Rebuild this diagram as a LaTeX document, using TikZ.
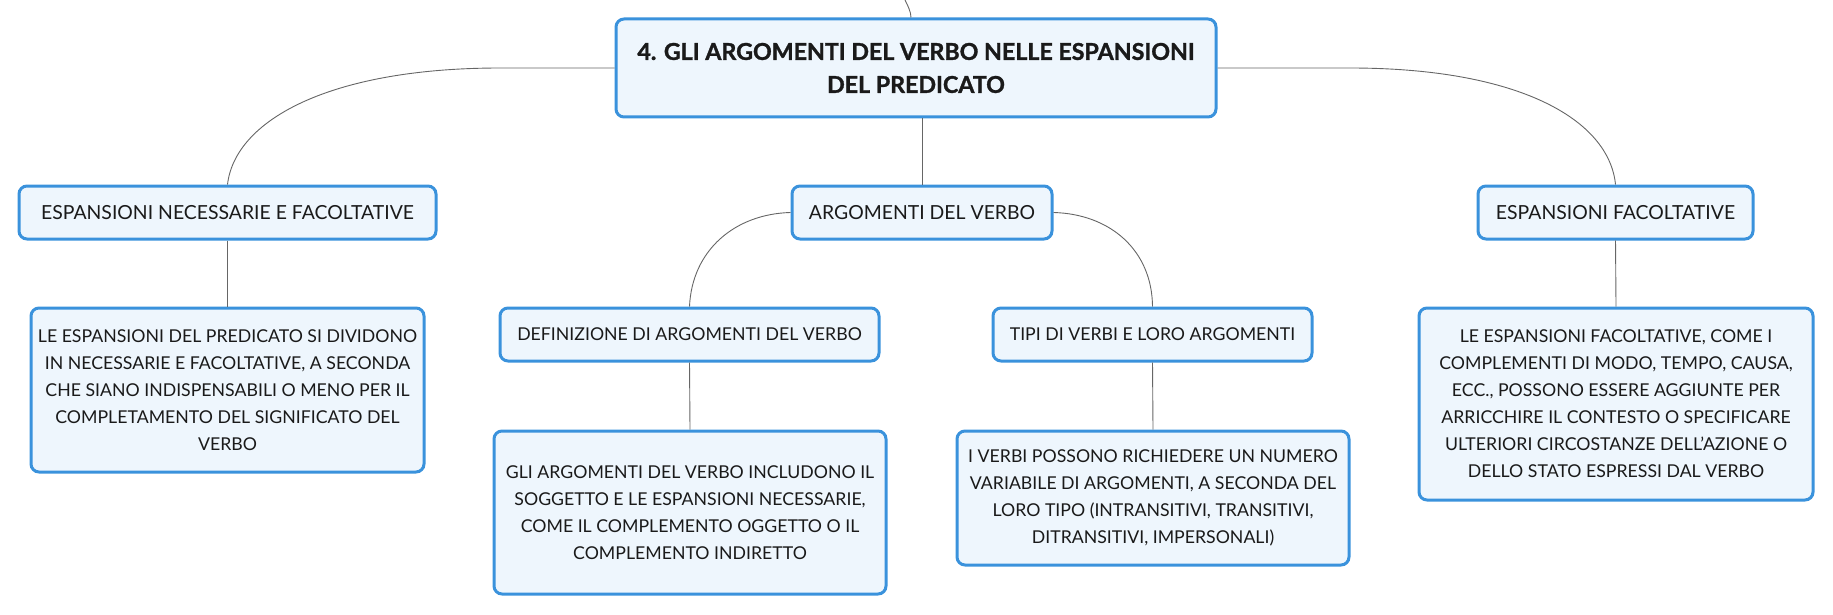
\documentclass[tikz,border=0pt]{standalone}
\usepackage{fontspec}
\setmainfont{Lato}
\newfontfamily\rootfont{Lato Bold}[FakeBold=1.3]
\definecolor{boxline}{HTML}{3A92DC}
\definecolor{boxfill}{HTML}{EEF6FD}
\definecolor{conn}{HTML}{666666}
\definecolor{ink}{HTML}{1A1A1A}
\begin{document}
\begin{tikzpicture}[x=1pt,y=-1pt,
  box/.style={draw=boxline,fill=boxfill,line width=3pt,rounded corners=8pt,
    align=center,inner sep=0pt,text=ink,font=\fontsize{17.7}{27}\selectfont},
  topic/.style={box,font=\fontsize{19.4}{27}\selectfont},
  rootbox/.style={box,font=\fontsize{23.2}{33}\rootfont},
  link/.style={draw=conn,line width=0.9pt}]
\useasboundingbox (0,0) rectangle (1833,615);
\node[rootbox,minimum width=600pt,minimum height=98pt] (root) at (916,68)
  {4. GLI ARGOMENTI DEL VERBO NELLE ESPANSIONI\\DEL PREDICATO};
\node[topic,minimum width=417pt,minimum height=53pt] (enf) at (227.5,212.5)
  {ESPANSIONI NECESSARIE E FACOLTATIVE};
\node[topic,minimum width=260pt,minimum height=53pt] (arg) at (922,212.5)
  {ARGOMENTI DEL VERBO};
\node[topic,minimum width=275pt,minimum height=53pt] (ef) at (1615.5,212.5)
  {ESPANSIONI FACOLTATIVE};
\node[box,minimum width=393pt,minimum height=164pt] (lc) at (227.5,390)
  {LE ESPANSIONI DEL PREDICATO SI DIVIDONO\\IN NECESSARIE E FACOLTATIVE, A SECONDA\\CHE SIANO INDISPENSABILI O MENO PER IL\\COMPLETAMENTO DEL SIGNIFICATO DEL\\VERBO};
\node[box,minimum width=379pt,minimum height=53pt] (def) at (689.5,334.5)
  {DEFINIZIONE DI ARGOMENTI DEL VERBO};
\node[box,minimum width=392pt,minimum height=163pt] (dc) at (690,512.5)
  {GLI ARGOMENTI DEL VERBO INCLUDONO IL\\SOGGETTO E LE ESPANSIONI NECESSARIE,\\COME IL COMPLEMENTO OGGETTO O IL\\COMPLEMENTO INDIRETTO};
\node[box,minimum width=319pt,minimum height=53pt] (tipi) at (1152.5,334.5)
  {TIPI DI VERBI E LORO ARGOMENTI};
\node[box,minimum width=392pt,minimum height=134pt] (tc) at (1153,498)
  {I VERBI POSSONO RICHIEDERE UN NUMERO\\VARIABILE DI ARGOMENTI, A SECONDA DEL\\LORO TIPO (INTRANSITIVI, TRANSITIVI,\\DITRANSITIVI, IMPERSONALI)};
\node[box,minimum width=394pt,minimum height=192pt] (rc) at (1616,404)
  {LE ESPANSIONI FACOLTATIVE, COME I\\COMPLEMENTI DI MODO, TEMPO, CAUSA,\\ECC., POSSONO ESSERE AGGIUNTE PER\\ARRICCHIRE IL CONTESTO O SPECIFICARE\\ULTERIORI CIRCOSTANZE DELL'AZIONE O\\DELLO STATO ESPRESSI DAL VERBO};
\coordinate (up) at (904,-2);
\draw[link] (up) .. controls (908,6) and (911,12) .. (root.north -| 911,0);
\draw[link] (root.west) -- (500,68) .. controls (330,68) and (235,120) .. (enf.north);
\draw[link] (root.east) -- (1350,68) .. controls (1520,68) and (1609,120) .. (ef.north);
\draw[link] (root.south -| arg.north) -- (arg.north);
\draw[link] (arg.west) .. controls (735,214) and (692,250) .. (def.north);
\draw[link] (arg.east) .. controls (1110,214) and (1152,250) .. (tipi.north);
\draw[link] (enf.south) -- (lc.north);
\draw[link] (def.south) -- (dc.north);
\draw[link] (tipi.south) -- (tc.north);
\draw[link] (ef.south) -- (rc.north);
\end{tikzpicture}
\end{document}
